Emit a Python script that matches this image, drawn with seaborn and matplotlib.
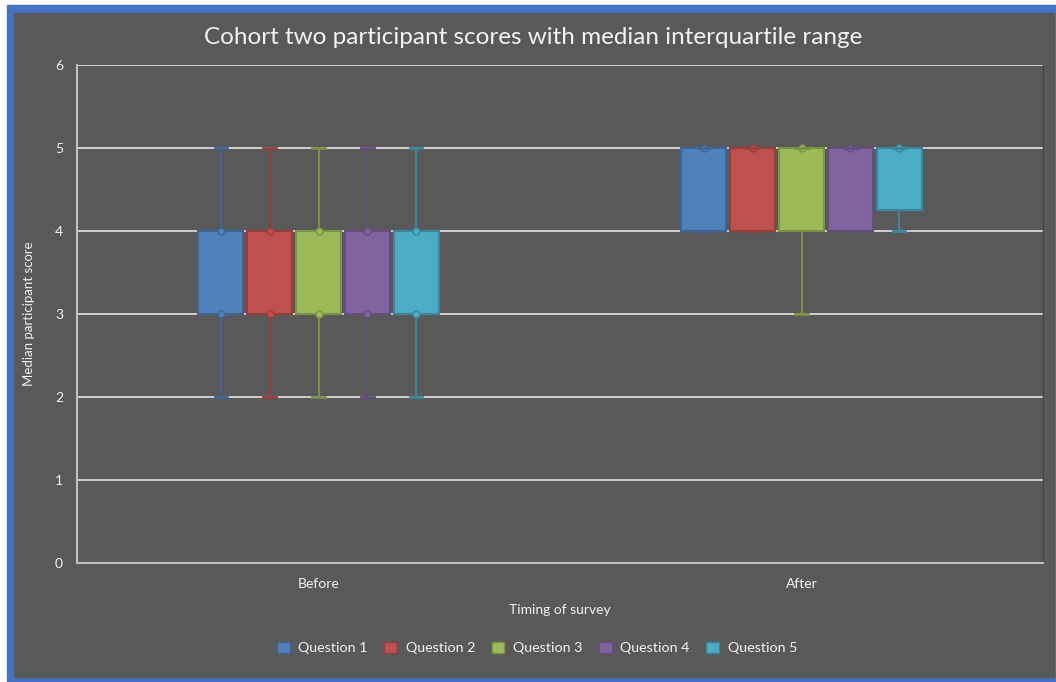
import numpy as np
import pandas as pd
import seaborn as sns
import matplotlib.pyplot as plt
import matplotlib.colors as mcolors
from matplotlib.patches import Rectangle, Patch

# data: raw responses per question, chosen so the quartiles match the chart
timings = ["Before", "After"]
questions = ["Question 1", "Question 2", "Question 3", "Question 4", "Question 5"]
before_q1 = [2, 3, 4, 4, 5]
before_q2 = [2, 3, 4, 4, 5]
before_q3 = [2, 3, 4, 4, 5]
before_q4 = [2, 3, 4, 4, 5]
before_q5 = [2, 3, 4, 4, 5]
after_q1 = [4, 4, 5, 5, 5]
after_q2 = [4, 4, 5, 5, 5]
after_q3 = [3, 4, 5, 5, 5]
after_q4 = [4, 4, 5, 5, 5]
after_q5 = [4, 4, 5, 5, 5, 5]

colors = ["#4F81BD", "#C0504D", "#9BBB59", "#8064A2", "#4BACC6"]
txt = "#f2f2f2"
bg = "#595959"


def darken(c, f=0.78):
    r, g, b = mcolors.to_rgb(c)
    return (r * f, g * f, b * f)


rows = []
series = {
    "Before": [before_q1, before_q2, before_q3, before_q4, before_q5],
    "After": [after_q1, after_q2, after_q3, after_q4, after_q5],
}
for t in timings:
    for q, vals in zip(questions, series[t]):
        for v in vals:
            rows.append({"timing": t, "question": q, "score": v})
df = pd.DataFrame(rows)

plt.rcParams["font.family"] = ["Lato", "DejaVu Sans"]

fig = plt.figure(figsize=(10.56, 6.82), dpi=100, facecolor="white")
W, H = 1056, 682
fig.patches.append(Rectangle((7 / W, 0), (W - 7) / W, 677 / H,
                             transform=fig.transFigure, color="#4472C4", zorder=-3))
fig.patches.append(Rectangle((14 / W, 5 / H), (1054 - 14) / W, 664 / H,
                             transform=fig.transFigure, color=bg, zorder=-2))

ax = fig.add_axes([77 / W, 1 - 563 / H, 966 / W, 498 / H])
ax.set_facecolor(bg)

sns.boxplot(data=df, x="timing", y="score", hue="question", order=timings,
            hue_order=questions, palette=colors, saturation=1, width=0.507, gap=0.08,
            whis=(0, 100), linewidth=1.5, fliersize=0, legend=False, ax=ax)

cap_half = 0.0125
for cont, c in zip(ax.containers, colors):
    dk = darken(c)
    for b in cont.boxes:
        b.set_edgecolor(dk)
        b.set_linewidth(1.5)
    whiskers = list(cont.whiskers)
    for i in range(0, len(whiskers), 2):
        lo, hi = whiskers[i], whiskers[i + 1]
        lo_len = abs(np.diff(lo.get_ydata())[0])
        hi_len = abs(np.diff(hi.get_ydata())[0])
        for w, mark in [(lo, lo_len > 0 and hi_len > 0), (hi, True)]:
            w.set_color(dk)
            w.set_linewidth(1.5)
            if mark:
                w.set_marker("o")
                w.set_markevery([0])
                w.set_markersize(5)
                w.set_markerfacecolor(c)
                w.set_markeredgecolor(dk)
    for cap in cont.caps:
        x = np.mean(cap.get_xdata())
        cap.set_xdata([x - cap_half, x + cap_half])
        cap.set_color(dk)
        cap.set_linewidth(2)
    for m in cont.medians:
        m.set_visible(False)

ax.set_ylim(0, 6)
ax.set_xlim(-0.5, 1.5)
ax.set_yticks(range(0, 7))
ax.yaxis.grid(True, color="#d9d9d9", linewidth=1.3)
ax.set_axisbelow(True)
ax.tick_params(length=0, colors=txt, labelsize=10)
ax.tick_params(axis="y", pad=10)
ax.tick_params(axis="x", pad=11)
ax.spines["top"].set_visible(False)
ax.spines["left"].set_color("#bfbfbf")
ax.spines["left"].set_linewidth(1.5)
ax.spines["bottom"].set_color("#bfbfbf")
ax.spines["bottom"].set_linewidth(1.5)
ax.spines["right"].set_color("#454545")
ax.spines["right"].set_linewidth(1)

ax.set_ylabel("Median participant score", color=txt, fontsize=9.5)
ax.yaxis.set_label_coords((35 - 77) / 966, 0.5)
ax.set_xlabel("Timing of survey", color=txt, fontsize=10)
ax.xaxis.set_label_coords(0.5, (563 - 604) / 498)

fig.text(533 / W, 1 - 38 / H, "Cohort two participant scores with median interquartile range",
         ha="center", va="center", color=txt, fontsize=17.5)

handles = [Patch(facecolor=c, edgecolor=darken(c), label=q) for c, q in zip(colors, questions)]
fig.legend(handles=handles, loc="center", bbox_to_anchor=(537 / W, 1 - 648 / H), ncol=5,
           frameon=False, labelcolor=txt, fontsize=10.3, handlelength=0.9, handleheight=0.9,
           columnspacing=1.15, handletextpad=0.6)

fig.savefig("out.png", dpi=100, facecolor=fig.get_facecolor())
